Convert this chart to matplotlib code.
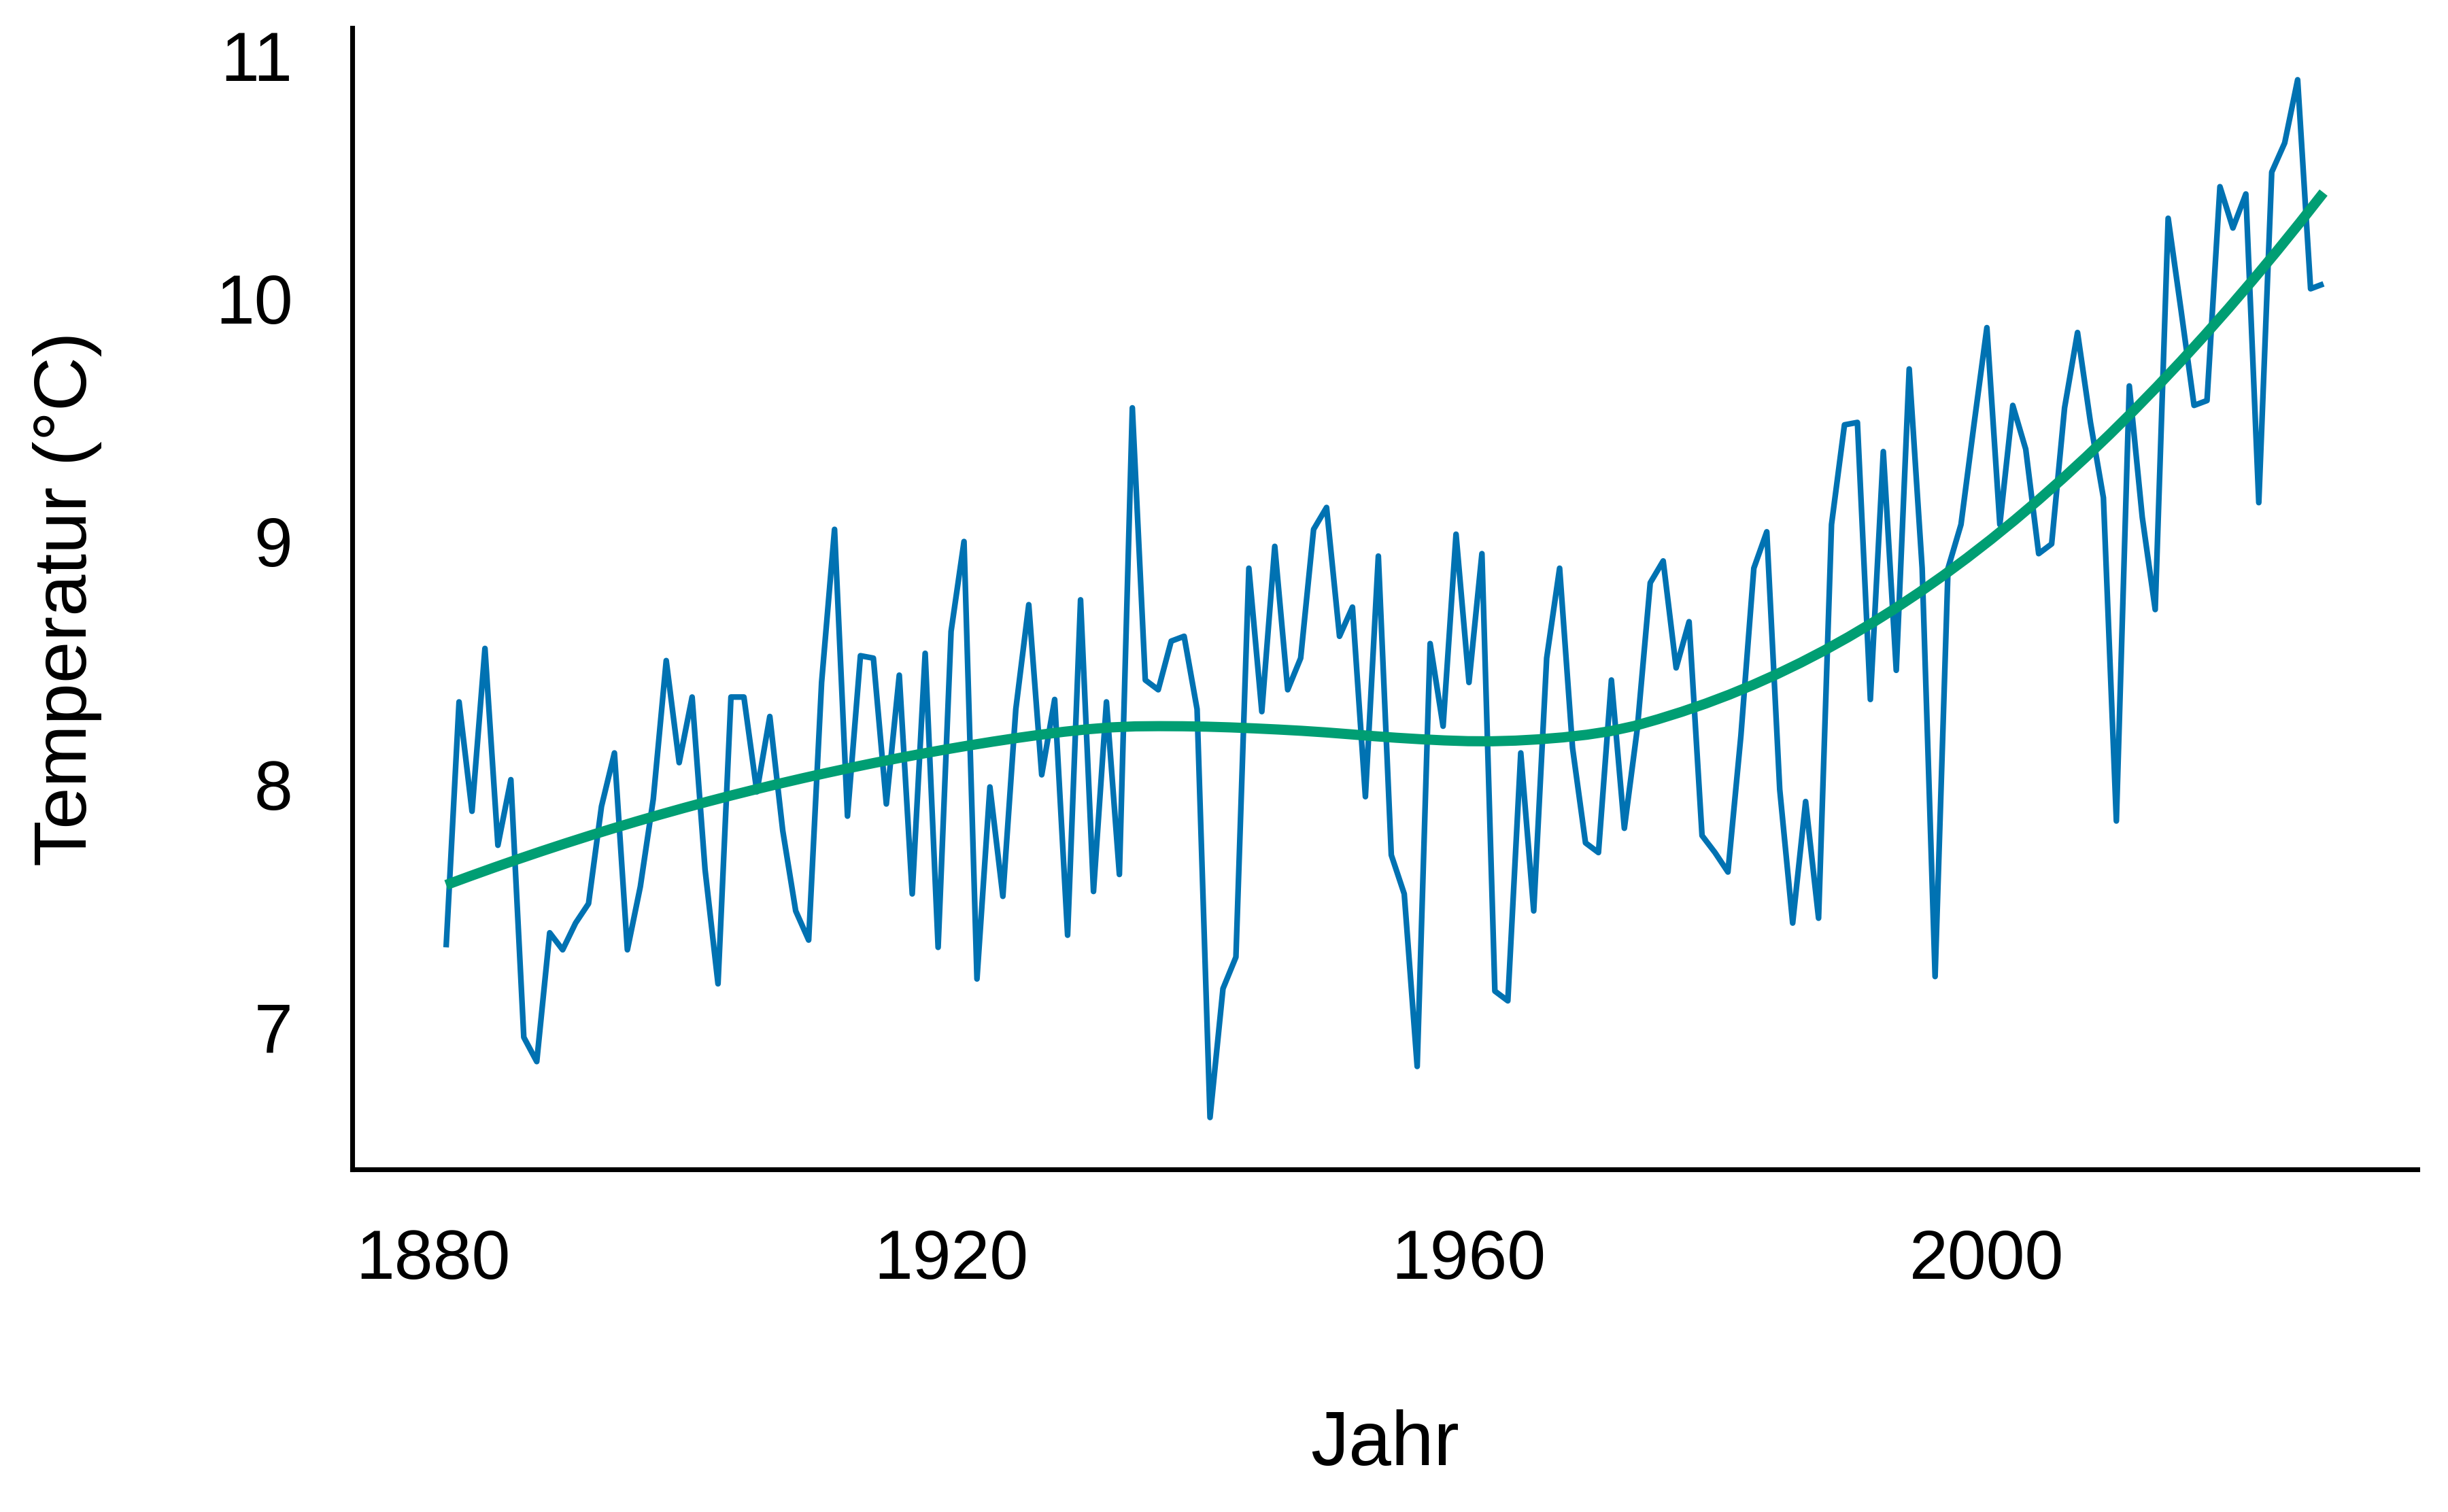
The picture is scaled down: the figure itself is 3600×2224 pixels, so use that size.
import numpy as np
import matplotlib
matplotlib.use("Agg")
import matplotlib.pyplot as plt

# Jahresmitteltemperatur Deutschland (1881-2026)
years = list(range(1881, 2027))
temps = [
    7.33, 8.34, 7.89, 8.56, 7.75, 8.02, 6.96, 6.86, 7.39, 7.32,   # 1881-1890
    7.43, 7.51, 7.91, 8.13, 7.32, 7.58, 7.94, 8.51, 8.09, 8.36,   # 1891-1900
    7.65, 7.18, 8.36, 8.36, 7.97, 8.28, 7.81, 7.48, 7.36, 8.42,   # 1901-1910
    9.05, 7.87, 8.53, 8.52, 7.92, 8.45, 7.55, 8.54, 7.33, 8.63,   # 1911-1920
    9.00, 7.20, 7.99, 7.54, 8.31, 8.74, 8.04, 8.35, 7.38, 8.76,   # 1921-1930
    7.56, 8.34, 7.63, 9.55, 8.43, 8.39, 8.59, 8.61, 8.31, 6.63,   # 1931-1940
    7.16, 7.29, 8.89, 8.30, 8.98, 8.39, 8.52, 9.05, 9.14, 8.61,   # 1941-1950
    8.73, 7.95, 8.94, 7.71, 7.55, 6.84, 8.58, 8.24, 9.03, 8.42,   # 1951-1960
    8.95, 7.15, 7.11, 8.13, 7.48, 8.52, 8.89, 8.15, 7.76, 7.72,   # 1961-1970
    8.43, 7.82, 8.23, 8.83, 8.92, 8.48, 8.67, 7.79, 7.72, 7.64,   # 1971-1980
    8.20, 8.89, 9.04, 7.98, 7.43, 7.93, 7.45, 9.07, 9.48, 9.49,   # 1981-1990
    8.35, 9.37, 8.47, 9.71, 8.89, 7.21, 8.89, 9.07, 9.48, 9.88,   # 1991-2000
    9.07, 9.56, 9.38, 8.95, 8.99, 9.55, 9.86, 9.49, 9.18, 7.85,   # 2001-2010
    9.64, 9.10, 8.72, 10.33, 9.95, 9.56, 9.58, 10.46, 10.29, 10.43,  # 2011-2020
    9.16, 10.52, 10.64, 10.90, 10.04, 10.06,                      # 2021-2026
]

x_ticks = [1880, 1920, 1960, 2000]
y_ticks = [7, 8, 9, 10, 11]

BLUE = "#0072B2"
GREEN = "#009E73"


def loess(x, y, xs, span=0.75):
    # local quadratic fit with tricube weights (like geom_smooth's default)
    x = np.asarray(x, float)
    y = np.asarray(y, float)
    q = int(np.floor(span * len(x)))
    out = []
    for x0 in xs:
        d = np.abs(x - x0)
        h = np.sort(d)[q - 1]
        w = np.clip(1 - (d / h) ** 3, 0, None) ** 3
        X = np.column_stack([np.ones_like(x), x - x0, (x - x0) ** 2])
        W = np.sqrt(w)
        beta = np.linalg.lstsq(X * W[:, None], y * W, rcond=None)[0]
        out.append(beta[0])
    return np.array(out)


def main():
    plt.rcParams["font.family"] = ["Liberation Sans", "DejaVu Sans"]

    fig = plt.figure(figsize=(12, 2224 / 300))
    ax = fig.add_axes([518 / 3600, 1 - 1720 / 2224, (3555 - 518) / 3600, (1720 - 41) / 2224])

    ax.plot(years, temps, color=BLUE, linewidth=2.0, solid_joinstyle="round",
            solid_capstyle="butt", zorder=2)

    xs = np.linspace(years[0], years[-1], 80)
    ax.plot(xs, loess(years, temps, xs), color=GREEN, linewidth=3.6,
            solid_capstyle="butt", zorder=3)

    ax.margins(x=0.05, y=0.05)
    ax.set_xticks(x_ticks)
    ax.set_yticks(y_ticks)
    ax.tick_params(axis="both", length=0, labelsize=24.5, pad=21, colors="black")

    ax.set_xlabel("Jahr", fontsize=27, labelpad=41)
    ax.set_ylabel("Temperatur (°C)", fontsize=26.5, labelpad=40)

    for side in ["top", "right"]:
        ax.spines[side].set_visible(False)
    for side in ["left", "bottom"]:
        ax.spines[side].set_linewidth(1.7)
        ax.spines[side].set_color("black")
        ax.spines[side].set_capstyle("projecting")

    fig.savefig("out.png", dpi=300, facecolor="white")
    plt.close(fig)


if __name__ == "__main__":
    main()
